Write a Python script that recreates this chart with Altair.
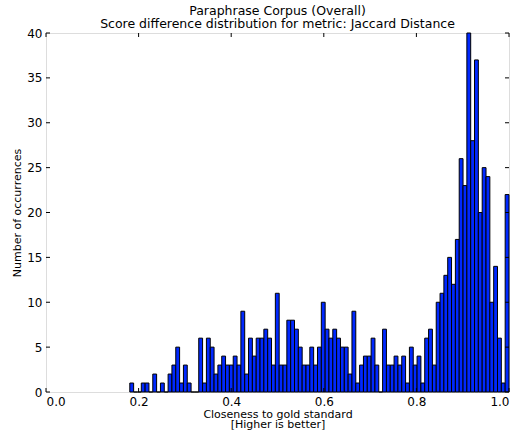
import altair as alt
import numpy as np
import pandas as pd

# histogram counts (99 bins from ~0.181 to 1.0)
counts = [
    1, 0, 0, 1, 1, 0, 2, 0, 1, 0,
    2, 3, 5, 1, 3, 1, 0, 0, 6, 1,
    6, 5, 2, 3, 4, 3, 3, 4, 3, 9,
    2, 6, 4, 6, 6, 7, 6, 3, 11, 3,
    3, 8, 8, 7, 5, 3, 3, 5, 3, 5,
    10, 7, 6, 7, 6, 5, 5, 2,
    9, 1, 3, 4, 4, 6, 3, 0, 7, 3, 3, 4, 3, 4, 1, 5, 3, 4, 1,
    6, 7, 3, 10, 11, 13, 15, 12, 17, 26, 23, 40, 28, 37, 20, 25, 24, 10, 14, 6, 1, 22,
]
range_min = 0.181
range_max = 1.0
x_ticks = [0.0, 0.2, 0.4, 0.6, 0.8, 1.0]
y_ticks = [0, 5, 10, 15, 20, 25, 30, 35, 40]

title_lines = ["Paraphrase Corpus (Overall)",
               "Score difference distribution for metric: Jaccard Distance"]
x_title = ["Closeness to gold standard", "[Higher is better]"]
y_title = "Number of occurrences"

edges = np.linspace(range_min, range_max, len(counts) + 1)
df = pd.DataFrame({"start": edges[:-1], "end": edges[1:], "count": counts})
xt = pd.DataFrame({"v": x_ticks})
yt = pd.DataFrame({"v": y_ticks})

W, H = 463, 359
FONT = "DejaVu Sans"

xscale = alt.Scale(domain=[0, 1], nice=False, zero=False)
yscale = alt.Scale(domain=[0, 40], nice=False)

bars = alt.Chart(df).mark_rect(
    color="#0028ff", stroke="black", strokeWidth=1
).encode(
    x=alt.X("start:Q", scale=xscale,
            axis=alt.Axis(values=x_ticks, format=".1f", ticks=False, domain=False,
                          grid=False, labelFont=FONT, labelFontSize=12,
                          labelColor="black", labelPadding=4,
                          title=x_title, titleFont=FONT, titleFontSize=11,
                          titleFontWeight="normal", titleColor="black",
                          titlePadding=1, titleLineHeight=10.5)),
    x2="end:Q",
    y=alt.Y("count:Q", scale=yscale,
            axis=alt.Axis(values=y_ticks, ticks=False, domain=False, grid=False,
                          labelFont=FONT, labelFontSize=12, labelColor="black",
                          labelPadding=4, title=y_title, titleFont=FONT,
                          titleFontSize=11, titleFontWeight="normal",
                          titleColor="black", titlePadding=4)),
    y2=alt.datum(0),
)

tick_style = dict(color="black", strokeWidth=1)
xb = alt.Chart(xt).mark_rule(**tick_style).encode(
    x=alt.X("v:Q", scale=xscale), y=alt.value(H), y2=alt.value(H - 4))
xtop = alt.Chart(xt).mark_rule(**tick_style).encode(
    x=alt.X("v:Q", scale=xscale), y=alt.value(0), y2=alt.value(4))
yl = alt.Chart(yt).mark_rule(**tick_style).encode(
    y=alt.Y("v:Q", scale=yscale), x=alt.value(0), x2=alt.value(4))
yr = alt.Chart(yt).mark_rule(**tick_style).encode(
    y=alt.Y("v:Q", scale=yscale), x=alt.value(W), x2=alt.value(W - 4))

chart = alt.layer(bars, xb, xtop, yl, yr).properties(
    width=W, height=H,
    title=alt.TitleParams(title_lines, font=FONT, fontSize=12.5,
                          fontWeight="normal", color="black", anchor="middle",
                          offset=-3, lineHeight=12.5),
    autosize=alt.AutoSizeParams(type="none"),
    padding={"left": 46, "top": 33, "right": 8, "bottom": 45},
).configure_view(stroke="black", strokeWidth=1).configure(background="white")

chart.save("out.html", embed_options={"renderer": "svg", "actions": False})
